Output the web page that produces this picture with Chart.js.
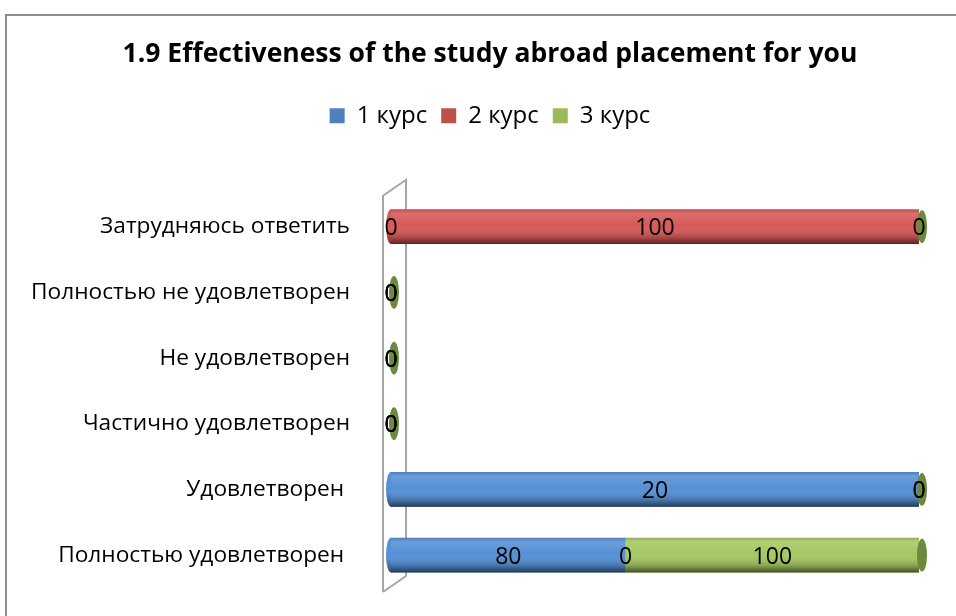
<!DOCTYPE html>
<html>
<head>
<meta charset="utf-8">
<script src="https://cdn.jsdelivr.net/npm/chart.js@4"></script>
<style>
  html, body { margin: 0; padding: 0; background: #fff; }
  #wrap { position: relative; width: 956px; height: 616px; overflow: hidden; }
  #frame { position: absolute; left: 5px; top: 14px; width: 1000px; height: 700px; border: 2px solid #8e8e8e; box-sizing: border-box; }
  canvas { position: absolute; left: 0; top: 0; }
</style>
</head>
<body>
<div id="wrap">
  <div id="frame"></div>
  <canvas id="c" width="956" height="616"></canvas>
</div>
<script>
// Data
const categories = [
    'Затрудняюсь ответить',
    'Полностью не удовлетворен',
    'Не удовлетворен',
    'Частично удовлетворен',
    'Удовлетворен ',
    'Полностью удовлетворен '
];
const seriesNames = ['1 курс', '2 курс', '3 курс'];
const course1 = [0, 0, 0, 0, 20, 80];
const course2 = [100, 0, 0, 0, 0, 0];
const course3 = [0, 0, 0, 0, 0, 100];
const colors = ['#5690d5', '#d65a58', '#a6c862'];
const legendColors = ['#4f81bd', '#c0504d', '#9bbb59'];
const capColor = '#6b8a3b';

const FONT = "'Open Sans', sans-serif";

// 100% stacked: each row is shown as a share of its total
const raw = [course1, course2, course3];
const totals = categories.map((_, i) => raw.reduce((s, arr) => s + arr[i], 0));
const share = arr => arr.map((v, i) => totals[i] ? v / totals[i] * 100 : 0);

function shade(hex, f) {
    const n = parseInt(hex.slice(1), 16);
    const r = Math.round(((n >> 16) & 255) * (1 - f));
    const g = Math.round(((n >> 8) & 255) * (1 - f));
    const b = Math.round((n & 255) * (1 - f));
    return `rgb(${r},${g},${b})`;
}

// extra gap below the legend
const legendGap = {
    id: 'legendGap',
    beforeInit(chart) {
        const fit = chart.legend.fit;
        chart.legend.fit = function () {
            fit.call(this);
            this.height += 56;
        };
    }
};

// Cylinder look: shading, end caps, back wall, value labels
const cylinderPlugin = {
    id: 'cylinder',
    beforeDatasetsDraw(chart) {
        const { ctx, chartArea } = chart;
        const l = chartArea.left;
        // back wall
        ctx.save();
        ctx.strokeStyle = '#a6a6a6';
        ctx.lineWidth = 2;
        ctx.beginPath();
        ctx.moveTo(l - 8, chartArea.bottom + 4);
        ctx.lineTo(l - 8, chartArea.top + 2);
        ctx.lineTo(l + 15, chartArea.top - 14);
        ctx.lineTo(l + 15, chartArea.bottom - 12);
        ctx.lineTo(l - 8, chartArea.bottom + 4);
        ctx.stroke();
        // left rounded ends
        categories.forEach((_, i) => {
            const d = raw.findIndex(arr => arr[i] > 0);
            if (d < 0) return;
            const el = chart.getDatasetMeta(d).data[i];
            const h = el.height / 2;
            const g = ctx.createLinearGradient(0, el.y - h, 0, el.y + h);
            g.addColorStop(0, colors[d]);
            g.addColorStop(0.6, colors[d]);
            g.addColorStop(1, shade(colors[d], 0.45));
            ctx.fillStyle = g;
            ctx.beginPath();
            ctx.ellipse(el.base, el.y, 5, h, 0, 0, Math.PI * 2);
            ctx.fill();
        });
        ctx.restore();
    },
    afterDatasetsDraw(chart) {
        const { ctx } = chart;
        ctx.save();
        // shading over each bar
        chart.data.datasets.forEach((ds, d) => {
            chart.getDatasetMeta(d).data.forEach(el => {
                const w = el.x - el.base;
                if (w <= 0) return;
                const h = el.height / 2;
                const g = ctx.createLinearGradient(0, el.y - h, 0, el.y + h);
                g.addColorStop(0, 'rgba(0,0,0,0.12)');
                g.addColorStop(0.12, 'rgba(255,255,255,0.12)');
                g.addColorStop(0.45, 'rgba(255,255,255,0)');
                g.addColorStop(0.8, 'rgba(0,0,0,0.18)');
                g.addColorStop(1, 'rgba(0,0,0,0.6)');
                ctx.fillStyle = g;
                ctx.fillRect(el.base, el.y - h, w, el.height);
            });
        });
        // right cap of the stack (top of 3 курс)
        chart.getDatasetMeta(2).data.forEach(el => {
            const h = el.height / 2 - 1;
            ctx.fillStyle = capColor;
            ctx.beginPath();
            ctx.ellipse(el.x + 3, el.y, 5, h, 0, 0, Math.PI * 2);
            ctx.fill();
        });
        // value labels
        ctx.fillStyle = '#000';
        ctx.font = '23px ' + FONT;
        ctx.textAlign = 'center';
        ctx.textBaseline = 'middle';
        chart.data.datasets.forEach((ds, d) => {
            chart.getDatasetMeta(d).data.forEach((el, i) => {
                const x = (el.x + el.base) / 2;
                ctx.fillText(String(raw[d][i]), x, el.y + 2);
            });
        });
        ctx.restore();
    }
};

new Chart(document.getElementById('c'), {
    type: 'bar',
    data: {
        labels: categories,
        datasets: seriesNames.map((name, d) => ({
            label: name,
            data: share(raw[d]),
            backgroundColor: colors[d],
            borderWidth: 0,
            categoryPercentage: 1,
            barPercentage: 0.53
        }))
    },
    options: {
        indexAxis: 'y',
        responsive: false,
        animation: false,
        layout: { padding: { left: 61, right: 37, top: 0, bottom: 28 } },
        plugins: {
            title: {
                display: true,
                text: '1.9 Effectiveness of the study abroad placement for you',
                color: '#000',
                font: { family: FONT, size: 26.5, weight: 'bold' },
                padding: { top: 39, bottom: 19 }
            },
            legend: {
                position: 'top',
                labels: {
                    color: '#000',
                    font: { family: FONT, size: 24 },
                    boxWidth: 15,
                    boxHeight: 15,
                    padding: 14,
                    generateLabels: chart => seriesNames.map((name, d) => ({
                        text: name,
                        fillStyle: legendColors[d],
                        strokeStyle: legendColors[d],
                        lineWidth: 0,
                        datasetIndex: d
                    }))
                }
            },
            tooltip: { enabled: false }
        },
        scales: {
            x: { stacked: true, min: 0, max: 100, display: false },
            y: {
                stacked: true,
                grid: { display: false },
                border: { display: false },
                ticks: { color: '#000', font: { family: FONT, size: 22.7 }, padding: 33 },
                afterFit: s => {
                    s.width = 330;
                    s.paddingTop = 0;
                    s.paddingBottom = 0;
                    // long labels run past the left padding, so don't clip them
                    s._computeLabelArea = () => null;
                }
            }
        }
    },
    plugins: [legendGap, cylinderPlugin]
});
</script>
</body>
</html>
